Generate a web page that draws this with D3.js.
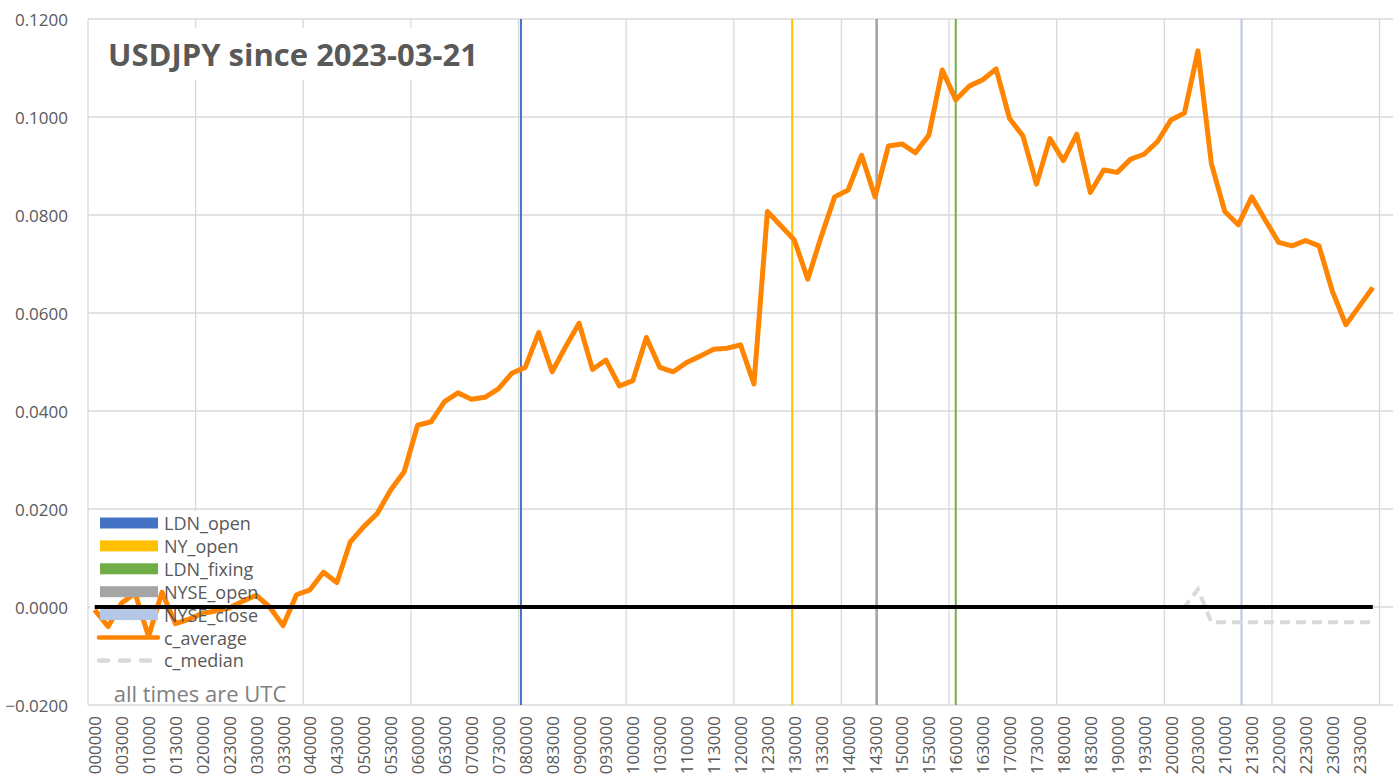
<!DOCTYPE html>
<html>
<head>
<meta charset="utf-8">
<script src="https://cdn.jsdelivr.net/npm/d3@7"></script>
<style>
	body { margin: 0; background: white; }
</style>
</head>
<body>
<div id="viz"></div>
<script>

// Categories: one every 15 minutes, UTC (hhmmss)
var times = [
	"000000","001500","003000","004500","010000","011500","013000","014500",
	"020000","021500","023000","024500","030000","031500","033000","034500",
	"040000","041500","043000","044500","050000","051500","053000","054500",
	"060000","061500","063000","064500","070000","071500","073000","074500",
	"080000","081500","083000","084500","090000","091500","093000","094500",
	"100000","101500","103000","104500","110000","111500","113000","114500",
	"120000","121500","123000","124500","130000","131500","133000","134500",
	"140000","141500","143000","144500","150000","151500","153000","154500",
	"160000","161500","163000","164500","170000","171500","173000","174500",
	"180000","181500","183000","184500","190000","191500","193000","194500",
	"200000","201500","203000","204500","210000","211500","213000","214500",
	"220000","221500","223000","224500","230000","231500","233000","234500"
];

// Average change since the open
var cAverage = [
	-0.0006,-0.0040, 0.0008, 0.0028,-0.0060, 0.0030,-0.0034,-0.0025,
	-0.0013,-0.0008,-0.0002, 0.0012, 0.0024, 0.0000,-0.0038, 0.0025,
	 0.0035, 0.0071, 0.0050, 0.0133, 0.0164, 0.0191, 0.0239, 0.0276,
	 0.0371, 0.0378, 0.0419, 0.0437, 0.0424, 0.0428, 0.0445, 0.0477,
	 0.0489, 0.0560, 0.0480, 0.0531, 0.0579, 0.0485, 0.0504, 0.0451,
	 0.0462, 0.0550, 0.0489, 0.0480, 0.0499, 0.0512, 0.0526, 0.0528,
	 0.0535, 0.0455, 0.0807, 0.0778, 0.0749, 0.0669, 0.0756, 0.0837,
	 0.0851, 0.0922, 0.0837, 0.0941, 0.0945, 0.0927, 0.0963, 0.1096,
	 0.1035, 0.1063, 0.1076, 0.1098, 0.0997, 0.0961, 0.0863, 0.0956,
	 0.0911, 0.0965, 0.0846, 0.0892, 0.0887, 0.0914, 0.0924, 0.0950,
	 0.0994, 0.1008, 0.1135, 0.0905, 0.0807, 0.0780, 0.0837, 0.0790,
	 0.0744, 0.0737, 0.0748, 0.0737, 0.0644, 0.0576, 0.0614, 0.0652
];

// Median change since the open
var cMedian = [
	0,0,0,0,0,0,0,0, 0,0,0,0,0,0,0,0,
	0,0,0,0,0,0,0,0, 0,0,0,0,0,0,0,0,
	0,0,0,0,0,0,0,0, 0,0,0,0,0,0,0,0,
	0,0,0,0,0,0,0,0, 0,0,0,0,0,0,0,0,
	0,0,0,0,0,0,0,0, 0,0,0,0,0,0,0,0,
	0,0, 0.0036,-0.0031,-0.0031,-0.0031,-0.0031,-0.0031,
	-0.0031,-0.0031,-0.0031,-0.0031,-0.0031,-0.0031,-0.0031,-0.0031
];

// Session markers (hour of day, UTC)
var eventNames = ["LDN_open", "NY_open", "LDN_fixing", "NYSE_open", "NYSE_close"];
var eventHours = [7.92, 12.96, 16.00, 14.53, 21.31];
var eventColors = ["#4472c4", "#ffc000", "#70ad47", "#a5a5a5", "#b4c7e7"];

var yTicks = [-0.02, 0, 0.02, 0.04, 0.06, 0.08, 0.10, 0.12];

var title = "USDJPY since 2023-03-21",
	note = "all times are UTC";

// Layout
var width = 1400,
	height = 784,
	plotLeft = 88,
	plotRight = 1393,
	plotTop = 19,
	plotBottom = 705,
	textColor = "#595959",
	gridColor = "#d9d9d9",
	font = "'Open Sans', sans-serif";

var nSlots = times.length + 1;

var x = d3.scaleLinear().domain([0, nSlots]).range([plotLeft, plotRight]),
	xCenter = i => x(i + 0.5),
	xHour = h => x(h * 4 + 0.5),
	y = d3.scaleLinear().domain([-0.02, 0.12]).range([plotBottom, plotTop]);

var svg = d3.select("#viz")
	.append("svg")
	.attr("width", width)
	.attr("height", height)
	.style("background-color", "white");

// Horizontal gridlines
svg.selectAll(".hgrid")
	.data(yTicks)
	.enter()
	.append("line")
	.attr("class", "hgrid")
	.attr("x1", plotLeft)
	.attr("x2", plotRight)
	.attr("y1", d => y(d))
	.attr("y2", d => y(d))
	.style("stroke", gridColor)
	.style("stroke-width", 1.3);

// Vertical gridlines every 2 hours
svg.selectAll(".vgrid")
	.data(d3.range(0, times.length + 1, 8))
	.enter()
	.append("line")
	.attr("class", "vgrid")
	.attr("x1", d => x(d))
	.attr("x2", d => x(d))
	.attr("y1", plotTop)
	.attr("y2", plotBottom)
	.style("stroke", gridColor)
	.style("stroke-width", 1.3);

// Y labels
svg.selectAll(".ylabel")
	.data(yTicks)
	.enter()
	.append("text")
	.attr("class", "ylabel")
	.attr("x", 68)
	.attr("y", d => y(d))
	.attr("text-anchor", "end")
	.attr("dominant-baseline", "central")
	.style("font-family", font)
	.style("font-size", "17px")
	.style("fill", textColor)
	.text(d => d3.format(".4f")(d));

// X labels, every other category
svg.selectAll(".xlabel")
	.data(times.filter((t, i) => i % 2 == 0))
	.enter()
	.append("text")
	.attr("class", "xlabel")
	.attr("transform", (d, i) => `translate(${xCenter(i * 2)}, 716) rotate(-90)`)
	.attr("text-anchor", "end")
	.attr("dominant-baseline", "central")
	.style("font-family", font)
	.style("font-size", "17px")
	.style("fill", textColor)
	.text(d => d);

// White boxes behind title and legend
svg.append("rect")
	.attr("x", 96)
	.attr("y", 28)
	.attr("width", 400)
	.attr("height", 52)
	.style("fill", "white");

svg.append("rect")
	.attr("x", 90)
	.attr("y", 511)
	.attr("width", 211)
	.attr("height", 193)
	.style("fill", "white");

// Session marker lines
svg.selectAll(".event")
	.data(eventHours)
	.enter()
	.append("line")
	.attr("class", "event")
	.attr("x1", d => xHour(d))
	.attr("x2", d => xHour(d))
	.attr("y1", plotTop)
	.attr("y2", plotBottom)
	.style("stroke", (d, i) => eventColors[i])
	.style("stroke-width", (d, i) => i == 3 ? 2.6 : 2);

// Average line
var line = d3.line()
	.x((d, i) => xCenter(i))
	.y(d => y(d));

svg.append("path")
	.attr("d", line(cAverage))
	.style("fill", "none")
	.style("stroke", "#ff8500")
	.style("stroke-width", 5)
	.style("stroke-linejoin", "round");

// Median line
svg.append("path")
	.attr("d", line(cMedian))
	.style("fill", "none")
	.style("stroke", gridColor)
	.style("stroke-width", 4)
	.style("stroke-dasharray", "10, 6");

// Zero line
svg.append("line")
	.attr("x1", xCenter(0))
	.attr("x2", xCenter(times.length - 1))
	.attr("y1", y(0))
	.attr("y2", y(0))
	.style("stroke", "black")
	.style("stroke-width", 4);

// Legend
var legendData = eventNames.map((n, i) => ({name: n, color: eventColors[i], type: "rect"}))
	.concat([
		{name: "c_average", color: "#ff8500", type: "line"},
		{name: "c_median", color: gridColor, type: "dash"}
	]);

var legend = svg.selectAll(".legend")
	.data(legendData)
	.enter()
	.append("g")
	.attr("class", "legend")
	.attr("transform", (d, i) => `translate(99, ${523 + i * 22.9})`);

legend.filter(d => d.type == "rect")
	.append("rect")
	.attr("x", 1)
	.attr("y", -5.5)
	.attr("width", 58)
	.attr("height", 11)
	.style("fill", d => d.color);

legend.filter(d => d.type != "rect")
	.append("line")
	.attr("x1", 0)
	.attr("x2", 59)
	.attr("y1", 0)
	.attr("y2", 0)
	.style("stroke", d => d.color)
	.style("stroke-width", 4.5)
	.style("stroke-linecap", "round")
	.style("stroke-dasharray", d => d.type == "dash" ? "9, 12" : null);

legend.append("text")
	.attr("x", 65)
	.attr("y", 0)
	.attr("dominant-baseline", "central")
	.style("font-family", font)
	.style("font-size", "18px")
	.style("fill", textColor)
	.text(d => d.name);

// Note
svg.append("text")
	.attr("x", 200)
	.attr("y", 693)
	.attr("text-anchor", "middle")
	.attr("dominant-baseline", "central")
	.style("font-family", font)
	.style("font-size", "22px")
	.style("fill", "#7f7f7f")
	.text(note);

// Title
svg.append("text")
	.attr("x", 108)
	.attr("y", 66)
	.style("font-family", font)
	.style("font-size", "31px")
	.style("font-weight", "bold")
	.style("fill", textColor)
	.text(title);

</script>
</body>
</html>
